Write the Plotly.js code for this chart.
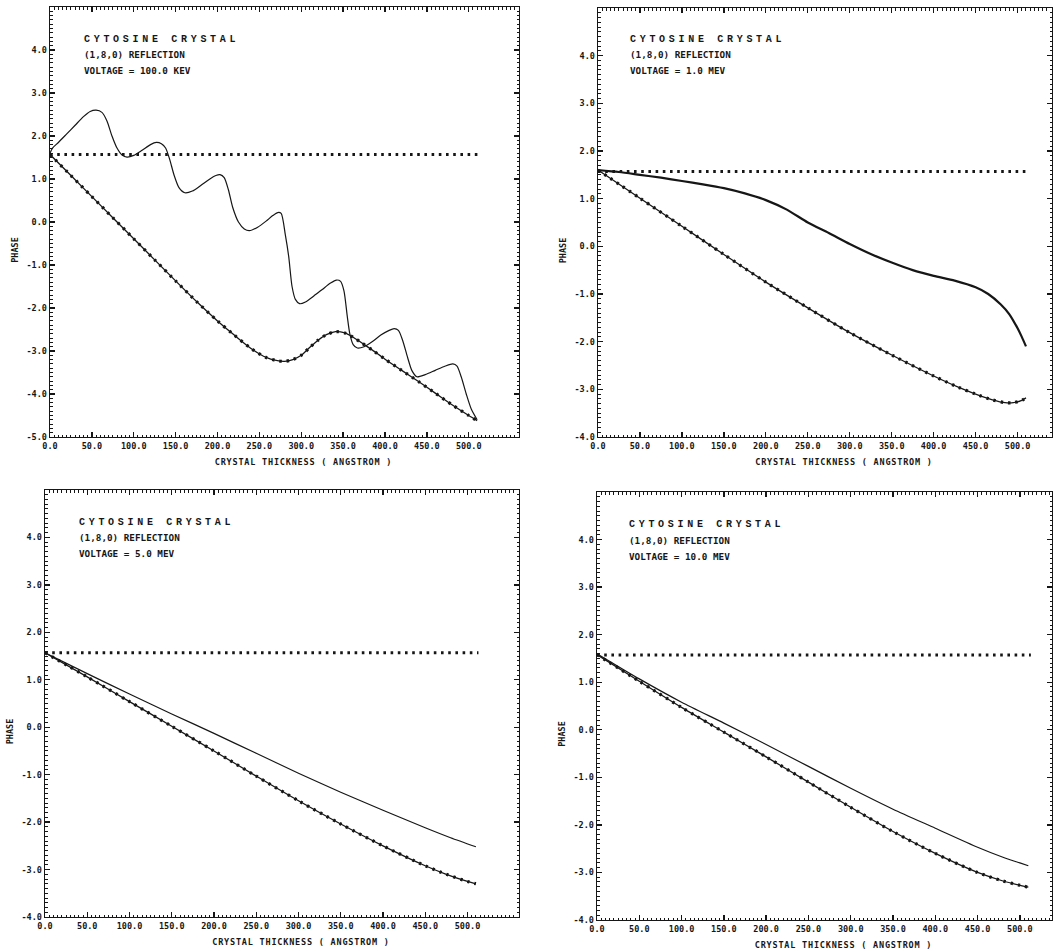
<!DOCTYPE html>
<html><head><meta charset="utf-8">
<script src="https://cdn.plot.ly/plotly-3.0.1.min.js"></script>
<style>
body{margin:0;background:#fff}
text[style*="Liberation Mono"]{letter-spacing:3.7px}
.g-xtitle text,.g-x2title text,.g-x3title text,.g-x4title text{letter-spacing:0.8px}
.g-xtitle,.g-x2title,.g-x3title,.g-x4title{transform:translate(19px,0px)}
.g-ytitle,.g-y2title,.g-y3title,.g-y4title{transform:translate(1px,28px)}
</style>
</head><body><div id="chart" style="width:1057px;height:951px"></div>
<script>
// ---------- data ----------
const panelHeading = "CYTOSINE CRYSTAL";
const reflection = "(1,8,0) REFLECTION";
const voltages = ["VOLTAGE = 100.0 KEV", "VOLTAGE = 1.0 MEV", "VOLTAGE = 5.0 MEV", "VOLTAGE = 10.0 MEV"];
const xTitle = "CRYSTAL THICKNESS ( ANGSTROM )";
const yTitle = "PHASE";

const xTickVals = [0, 50, 100, 150, 200, 250, 300, 350, 400, 450, 500];
const xTickText = ["0.0", "50.0", "100.0", "150.0", "200.0", "250.0", "300.0", "350.0", "400.0", "450.0", "500.0"];
const yTickValsA = [-5, -4, -3, -2, -1, 0, 1, 2, 3, 4];
const yTickTextA = ["-5.0", "-4.0", "-3.0", "-2.0", "-1.0", "0.0", "1.0", "2.0", "3.0", "4.0"];
const yTickValsB = [-4, -3, -2, -1, 0, 1, 2, 3, 4];
const yTickTextB = ["-4.0", "-3.0", "-2.0", "-1.0", "0.0", "1.0", "2.0", "3.0", "4.0"];

// horizontal reference level (pi/2)
const levelX = [0, 513];
const levelY = [1.5708, 1.5708];

// 100 keV
const lower1X = [0, 25, 50, 75, 100, 125, 150, 175, 200, 220, 240, 258, 270, 280, 290, 300, 310, 320, 330, 341, 352, 362, 372, 385, 400, 420, 440, 460, 480, 500, 510];
const lower1Y = [1.57, 1.08, 0.59, 0.1, -0.39, -0.88, -1.37, -1.85, -2.3, -2.63, -2.94, -3.15, -3.22, -3.24, -3.2, -3.1, -2.92, -2.75, -2.62, -2.55, -2.58, -2.68, -2.81, -2.98, -3.19, -3.45, -3.71, -3.98, -4.25, -4.5, -4.62];
const upper1X = [0, 3, 10, 20, 30, 40, 48, 55, 62, 68, 74, 80, 86, 92, 100, 110, 120, 127, 133, 138, 143, 148, 154, 161, 170, 180, 190, 198, 203, 208, 213, 218, 225, 232, 238, 248, 258, 266, 272, 276, 281, 285, 289, 293, 298, 305, 315, 325, 335, 342, 347, 351, 355, 358, 362, 367, 375, 385, 395, 405, 411, 416, 421, 427, 432, 438, 448, 460, 472, 481, 486, 491, 497, 503, 510];
const upper1Y = [1.6, 1.72, 1.85, 2.05, 2.25, 2.45, 2.57, 2.6, 2.55, 2.35, 2.0, 1.72, 1.56, 1.51, 1.55, 1.67, 1.8, 1.85, 1.82, 1.72, 1.45, 1.1, 0.8, 0.68, 0.72, 0.85, 0.99, 1.08, 1.1, 1.03, 0.75, 0.35, 0.0, -0.16, -0.2, -0.12, 0.02, 0.15, 0.22, 0.2, -0.3, -0.8, -1.5, -1.8, -1.9, -1.86, -1.72, -1.57, -1.42, -1.35, -1.38, -1.6, -2.2, -2.6, -2.85, -2.93, -2.9, -2.78, -2.63, -2.52, -2.48, -2.52, -2.75, -3.15, -3.45, -3.6, -3.55, -3.45, -3.35, -3.3, -3.35, -3.6, -4.0, -4.35, -4.6];

// 1.0 MeV
const lower2X = [0, 50, 100, 150, 200, 250, 300, 350, 400, 430, 450, 470, 485, 495, 505, 510];
const lower2Y = [1.6, 1.01, 0.42, -0.17, -0.75, -1.29, -1.81, -2.28, -2.72, -2.96, -3.1, -3.22, -3.28, -3.28, -3.23, -3.18];
const upper2X = [0, 25, 50, 75, 100, 125, 150, 175, 200, 225, 250, 275, 300, 325, 350, 375, 400, 425, 450, 465, 480, 490, 500, 505, 510];
const upper2Y = [1.6, 1.56, 1.5, 1.44, 1.37, 1.3, 1.22, 1.11, 0.97, 0.77, 0.5, 0.28, 0.05, -0.16, -0.34, -0.5, -0.62, -0.72, -0.86, -1.0, -1.22, -1.42, -1.72, -1.9, -2.1];

// 5.0 MeV
const lower3X = [0, 50, 100, 150, 200, 250, 300, 350, 400, 450, 475, 500, 510];
const lower3Y = [1.57, 1.06, 0.54, 0.02, -0.5, -1.03, -1.55, -2.04, -2.5, -2.92, -3.1, -3.25, -3.3];
const upper3X = [0, 50, 100, 150, 200, 250, 300, 350, 400, 450, 480, 510];
const upper3Y = [1.57, 1.13, 0.7, 0.28, -0.13, -0.55, -0.97, -1.37, -1.75, -2.12, -2.33, -2.52];

// 10.0 MeV
const lower4X = [0, 50, 100, 150, 200, 250, 300, 350, 400, 450, 480, 500, 510];
const lower4Y = [1.58, 1.02, 0.47, -0.05, -0.57, -1.1, -1.63, -2.14, -2.6, -3.0, -3.18, -3.27, -3.31];
const upper4X = [0, 50, 100, 150, 200, 250, 300, 350, 400, 450, 480, 500, 510];
const upper4Y = [1.6, 1.07, 0.58, 0.14, -0.31, -0.77, -1.23, -1.67, -2.07, -2.47, -2.68, -2.8, -2.86];

// ---------- layout helpers ----------
const W = 1057, H = 951;
const INK = "#161616";
const monoFont = {family: "DejaVu Sans Mono", size: 8.5, color: INK, weight: "bold"};
const noteFont = {family: "DejaVu Sans Mono", size: 9.3, color: INK, weight: "bold"};

const panels = [
  {ax: "", box: [50, 519, 7, 437], xr: [0, 560], yr: [-5, 5], tv: yTickValsA, tt: yTickTextA, lower: [lower1X, lower1Y], upper: [upper1X, upper1Y], uw: 1.2, txt: [82, 40, 55, 71]},
  {ax: "2", box: [598, 1052, 8, 437], xr: [0, 541], yr: [-4, 5], tv: yTickValsB, tt: yTickTextB, lower: [lower2X, lower2Y], upper: [upper2X, upper2Y], uw: 2.2, txt: [628, 40, 55, 71]},
  {ax: "3", box: [45, 519, 490, 917], xr: [0, 561], yr: [-4, 5], tv: yTickValsB, tt: yTickTextB, lower: [lower3X, lower3Y], upper: [upper3X, upper3Y], uw: 1.2, txt: [77, 522, 537, 553]},
  {ax: "4", box: [597, 1052, 492, 920], xr: [0, 538], yr: [-4, 5], tv: yTickValsB, tt: yTickTextB, lower: [lower4X, lower4Y], upper: [upper4X, upper4Y], uw: 1.2, txt: [627, 524, 540, 556]}
];

const traces = [];
const layout = {
  width: W, height: H,
  margin: {l: 0, r: 0, t: 0, b: 0},
  paper_bgcolor: "#fff", plot_bgcolor: "#fff",
  showlegend: false,
  annotations: []
};

panels.forEach((p, i) => {
  const xa = "x" + p.ax, ya = "y" + p.ax;
  const common = {xaxis: xa, yaxis: ya, mode: "lines", hoverinfo: "skip", showlegend: false};
  traces.push(Object.assign({}, common, {x: levelX, y: levelY, line: {color: INK, width: 3, dash: "2.6px,4.6px"}}));
  traces.push(Object.assign({}, common, {x: p.lower[0], y: p.lower[1], line: {color: INK, width: 1.3, shape: "spline", smoothing: 0.8}}));
  traces.push(Object.assign({}, common, {x: p.lower[0], y: p.lower[1], line: {color: INK, width: 3.2, dash: "2.4px,5px", shape: "spline", smoothing: 0.8}}));
  traces.push(Object.assign({}, common, {x: p.upper[0], y: p.upper[1], line: {color: INK, width: p.uw, shape: "spline", smoothing: 0.7}}));

  const [l, r, t, b] = p.box;
  const axCommon = {
    showline: true, linecolor: INK, linewidth: 1.4, mirror: "ticks",
    ticks: "inside", ticklen: 5, tickwidth: 1.3, tickcolor: INK,
    showgrid: false, zeroline: false, tickfont: monoFont, fixedrange: true
  };
  layout["xaxis" + p.ax] = Object.assign({}, axCommon, {
    domain: [l / W, r / W], range: p.xr, anchor: ya,
    tickmode: "array", tickvals: xTickVals, ticktext: xTickText,
    minor: {tickmode: "linear", tick0: 0, dtick: 5, ticks: "inside", ticklen: 2.5, tickwidth: 1, tickcolor: INK},
    title: {text: xTitle, font: monoFont, standoff: 9}
  });
  layout["yaxis" + p.ax] = Object.assign({}, axCommon, {
    domain: [1 - b / H, 1 - t / H], range: p.yr, anchor: xa,
    tickmode: "array", tickvals: p.tv, ticktext: p.tt,
    minor: {tickmode: "linear", tick0: 0, dtick: 0.1, ticks: "inside", ticklen: 2.5, tickwidth: 1, tickcolor: INK},
    title: {text: yTitle, font: monoFont, standoff: 7}
  });

  const [tx, y1, y2, y3] = p.txt;
  const base = {xref: "paper", yref: "paper", x: tx / W, xanchor: "left", yanchor: "middle", showarrow: false};
  layout.annotations.push(Object.assign({}, base, {y: 1 - y1 / H, text: panelHeading, font: {family: "Liberation Mono", size: 10, color: INK, weight: "bold"}}));
  layout.annotations.push(Object.assign({}, base, {y: 1 - y2 / H, text: reflection, font: noteFont}));
  layout.annotations.push(Object.assign({}, base, {y: 1 - y3 / H, text: voltages[i], font: noteFont}));
});

Plotly.newPlot("chart", traces, layout, {displayModeBar: false, staticPlot: true});
</script></body></html>
